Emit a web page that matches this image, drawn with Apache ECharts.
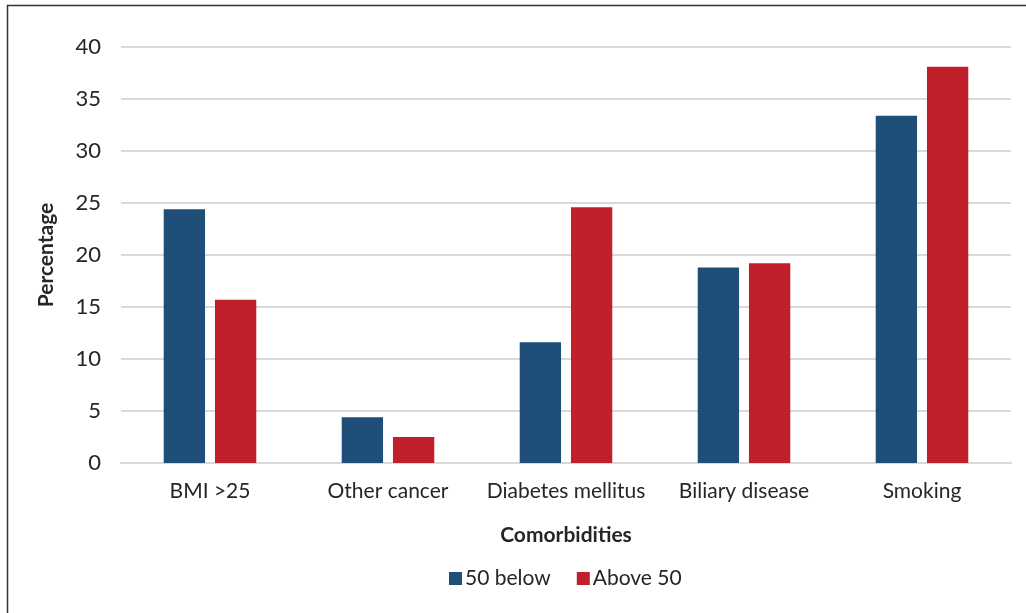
<!DOCTYPE html>
<html>
<head>
<meta charset="utf-8">
<script src="https://cdn.jsdelivr.net/npm/echarts@6/dist/echarts.min.js"></script>
<style>
  html, body { margin: 0; padding: 0; background: #fff; }
  #chart { width: 1026px; height: 613px; }
</style>
</head>
<body>
<div id="chart"></div>
<script>
// Comorbidities by age group (percentage)
const categories = ['BMI >25', 'Other cancer', 'Diabetes mellitus', 'Biliary disease', 'Smoking'];
const below50 = [24.4, 4.4, 11.6, 18.8, 33.4];
const above50 = [15.7, 2.5, 24.6, 19.2, 38.1];
const seriesNames = ['50 below', 'Above 50'];
const yTicks = { min: 0, max: 40, interval: 5 };

const font = 'Lato, "Open Sans", "Noto Sans", sans-serif';
const textColor = '#262626';

const chart = echarts.init(document.getElementById('chart'), null, { renderer: 'canvas' });
chart.setOption({
  animation: false,
  backgroundColor: '#ffffff',
  textStyle: { fontFamily: font },
  grid: { left: 121, right: 15, top: 47, bottom: 150 },
  legend: {
    data: seriesNames,
    bottom: 19,
    left: 444,
    itemWidth: 13,
    itemHeight: 13,
    itemGap: 26,
    icon: 'rect',
    textStyle: { fontSize: 21, color: textColor, fontFamily: font, padding: [0, 0, 0, -2] }
  },
  xAxis: {
    type: 'category',
    data: categories,
    axisLine: { show: true, lineStyle: { color: '#d9d9d9', width: 2 } },
    axisTick: { show: false },
    axisLabel: { fontSize: 21, color: textColor, margin: 18, fontFamily: font, interval: 0 }
  },
  yAxis: {
    type: 'value',
    min: yTicks.min,
    max: yTicks.max,
    interval: yTicks.interval,
    axisLine: { show: false },
    axisTick: { show: false },
    splitLine: { lineStyle: { color: '#d9d9d9', width: 2 } },
    axisLabel: { fontSize: 22, color: textColor, margin: 20, fontFamily: font }
  },
  series: [
    {
      name: seriesNames[0],
      type: 'bar',
      data: below50,
      barGap: '24%',
      barCategoryGap: '48%',
      itemStyle: { color: '#1f4e79' }
    },
    {
      name: seriesNames[1],
      type: 'bar',
      data: above50,
      itemStyle: { color: '#c0202a' }
    }
  ],
  graphic: [
    { type: 'line', shape: { x1: 7, y1: 5.5, x2: 1026, y2: 5.5 }, style: { stroke: '#333', lineWidth: 1.5 } },
    { type: 'line', shape: { x1: 7.5, y1: 5, x2: 7.5, y2: 613 }, style: { stroke: '#333', lineWidth: 1.5 } },
    {
      type: 'text', x: 566, y: 535,
      style: { text: 'Comorbidities', font: 'bold 21px ' + font, fill: textColor, align: 'center', verticalAlign: 'middle' }
    },
    {
      type: 'text', x: 46, y: 255, rotation: Math.PI / 2,
      style: { text: 'Percentage', font: 'bold 21px ' + font, fill: textColor, align: 'center', verticalAlign: 'middle' }
    }
  ]
});
</script>
</body>
</html>
